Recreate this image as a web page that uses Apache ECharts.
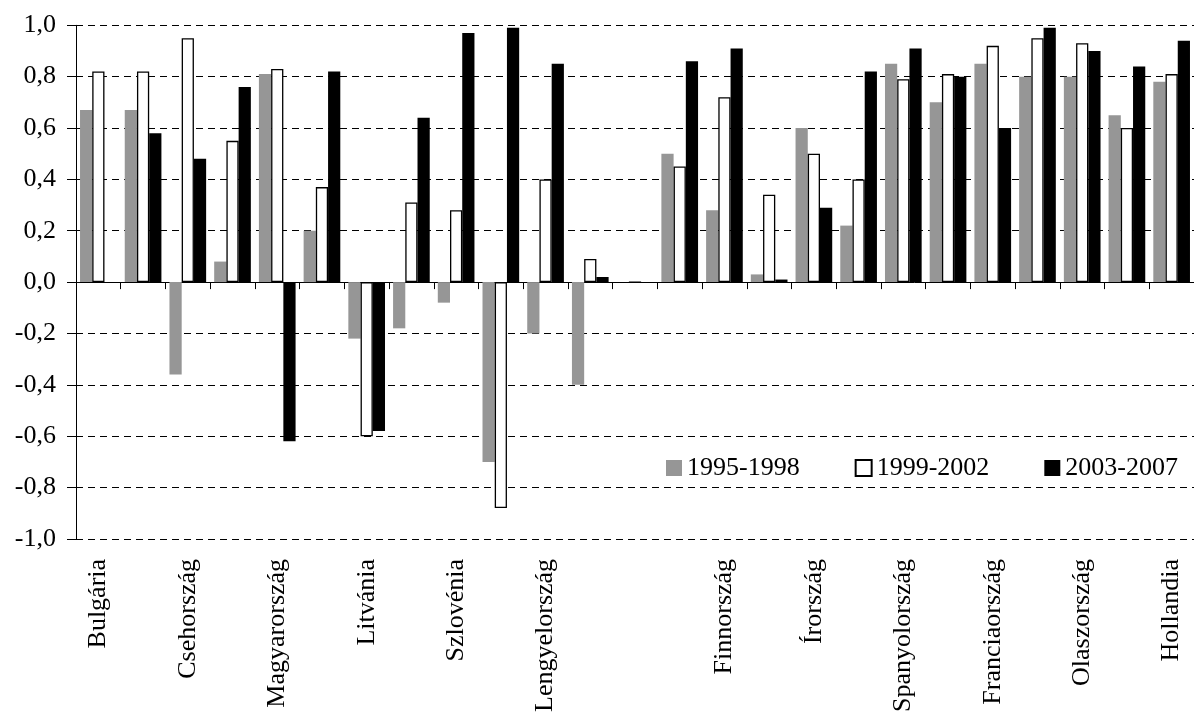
<!DOCTYPE html>
<html>
<head>
<meta charset="utf-8">
<script src="https://cdn.jsdelivr.net/npm/echarts@6/dist/echarts.min.js"></script>
<style>
html,body{margin:0;padding:0;background:#fff;}
#chart{width:1194px;height:715px;}
</style>
</head>
<body>
<div id="chart"></div>
<script>
var categories = ['Bulgária','','Csehország','','Magyarország','','Litvánia','','Szlovénia','','Lengyelország','','','','Finnország','','Írország','','Spanyolország','','Franciaország','','Olaszország','','Hollandia'];
var seriesNames = ['1995-1998','1999-2002','2003-2007'];
var s1995 = [0.67,0.67,-0.36,0.08,0.81,0.20,-0.22,-0.18,-0.08,-0.70,-0.20,-0.40,0,0.50,0.28,0.03,0.60,0.22,0.85,0.70,0.85,0.80,0.80,0.65,0.78];
var s1999 = [0.82,0.82,0.95,0.55,0.83,0.37,-0.60,0.31,0.28,-0.88,0.40,0.09,0,0.45,0.72,0.34,0.50,0.40,0.79,0.81,0.92,0.95,0.93,0.60,0.81];
var s2003 = [0,0.58,0.48,0.76,-0.62,0.82,-0.58,0.64,0.97,0.99,0.85,0.02,0,0.86,0.91,0.01,0.29,0.82,0.91,0.80,0.60,0.99,0.90,0.84,0.94];

var FONT = "'Liberation Serif', 'Times New Roman', serif";
var chart = echarts.init(document.getElementById('chart'), null, {renderer:'canvas'});
chart.setOption({
  animation: false,
  backgroundColor: '#fff',
  textStyle: {fontFamily: FONT, color: '#000'},
  grid: {left: 76, top: 25.3, width: 1125, height: 514.7, containLabel: false},
  legend: {
    left: 661, top: 450, itemWidth: 16, itemHeight: 16, itemGap: 55,
    icon: 'rect',
    textStyle: {fontFamily: FONT, fontSize: 26, color: '#000'},
    data: seriesNames
  },
  xAxis: [{
    type: 'category', data: categories, position: 'bottom',
    axisLine: {show: false, onZero: false},
    axisTick: {show: false},
    axisLabel: {interval: 0, rotate: 90, margin: 20, fontFamily: FONT, fontSize: 26, color: '#000'},
    splitLine: {show: false}
  }, {
    type: 'category', data: categories, position: 'bottom',
    axisLine: {show: true, onZero: true, lineStyle: {color: '#000', width: 1}},
    axisTick: {show: true, interval: 0, length: 7, lineStyle: {color: '#000', width: 1}},
    axisLabel: {show: false},
    splitLine: {show: false}
  }],
  yAxis: {
    type: 'value', min: -1, max: 1, interval: 0.2,
    axisLine: {show: true, lineStyle: {color: '#000', width: 1}},
    axisTick: {show: true, length: 9, lineStyle: {color: '#000', width: 1}},
    axisLabel: {
      margin: 20, fontFamily: FONT, fontSize: 26, color: '#000',
      formatter: function (v) { var s = (Math.abs(v) < 1e-9 ? 0 : v).toFixed(1); return s.replace('.', ','); }
    },
    splitLine: {show: true, lineStyle: {color: '#000', width: 1, type: [7, 5]}}
  },
  series: [{
    name: seriesNames[0], type: 'bar', data: s1995, barGap: '0%', barCategoryGap: '18%',
    itemStyle: {color: '#969696'}
  }, {
    name: seriesNames[1], type: 'bar', data: s1999, barGap: '0%', barCategoryGap: '18%',
    itemStyle: {color: '#ffffff', borderColor: '#000', borderWidth: 1.3}
  }, {
    name: seriesNames[2], type: 'bar', data: s2003, barGap: '0%', barCategoryGap: '18%',
    itemStyle: {color: '#000000'}
  }]
});
</script>
</body>
</html>
